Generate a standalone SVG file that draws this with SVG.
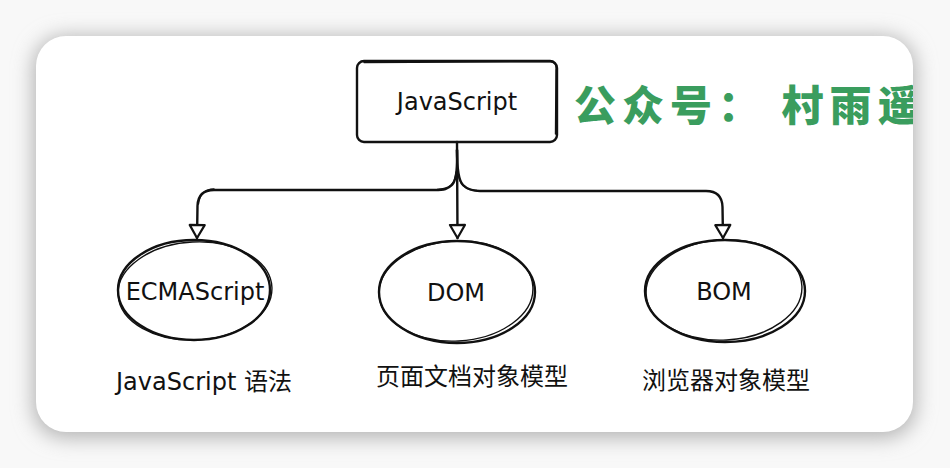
<svg xmlns="http://www.w3.org/2000/svg" width="950" height="468" viewBox="0 0 950 468">
  <defs>
    <filter id="shadow" x="-10%" y="-10%" width="120%" height="125%">
      <feGaussianBlur stdDeviation="10"/>
    </filter>
    <clipPath id="cardClip">
      <rect x="36" y="36" width="877" height="396" rx="30" ry="30"/>
    </clipPath>
    <marker id="arrow" markerUnits="userSpaceOnUse" markerWidth="20" markerHeight="20" viewBox="-2 -10 17 20" refX="13" refY="0" orient="auto">
      <path d="M0,-7.5 L13,0 L0,7.5 Z" fill="#ffffff" stroke="#111111" stroke-width="2.2" stroke-linejoin="round"/>
    </marker>
    <style>
      .sk { fill: none; stroke: #111111; stroke-width: 2.4; stroke-linecap: round; stroke-linejoin: round; }
      .sk2 { fill: none; stroke: #111111; stroke-width: 1.4; stroke-linecap: round; }
      .lat { font-family: "DejaVu Sans", "Liberation Sans", sans-serif; font-size: 24px; fill: #111111; }
      .cap { font-family: "DejaVu Sans", "Noto Sans CJK SC", sans-serif; font-size: 24px; fill: #111111; }
      .cjk { font-family: "Noto Sans CJK SC", sans-serif; font-size: 24px; fill: #111111; }
      .brand { font-family: "Noto Sans CJK SC", sans-serif; font-size: 42px; font-weight: 900; fill: #3a9d5e; letter-spacing: 6px; }
    </style>
  </defs>

  <!-- background and card -->
  <rect x="0" y="0" width="950" height="468" fill="#f8f8f8"/>
  <rect x="33" y="36" width="883" height="402" rx="32" ry="32" fill="#b4b4b4" filter="url(#shadow)"/>
  <rect x="36" y="36" width="877" height="396" rx="30" ry="30" fill="#ffffff"/>

  <!-- brand text -->
  <g id="brand" clip-path="url(#cardClip)">
    <text class="brand" x="574" y="121">公众号： 村雨遥</text>
  </g>

  <!-- connectors -->
  <g id="connectors">
    <path class="sk" d="M457,142 L457.5,238" marker-end="url(#arrow)"/>
    <path class="sk" d="M457,150 C457.5,165 457,180 452,185 C448,189 444,190 435,190 L214,190 Q198,190 197.5,206 L197,238" marker-end="url(#arrow)"/>
    <path class="sk2" d="M456,172 C455,184 450,189 437,189.5 L300,190"/>
    <path class="sk2" d="M214,189 Q200,189.5 198.5,204"/>
    <path class="sk" d="M457,150 C457,165 458,180 463,185 C467,189 471,191 480,191 L706,191 Q722,191 722.5,207 L723,238" marker-end="url(#arrow)"/>
    <path class="sk2" d="M458,172 C459,184 464,190 477,190.5 L600,191"/>
  </g>

  <!-- root node -->
  <g id="node-javascript">
    <rect class="sk" x="357" y="61" width="200" height="81" rx="7" ry="7"/>
    <path class="sk2" d="M364,62.5 L550,61.5 Q557,62 556,70 L555.5,134"/>
    <text class="lat" x="457" y="110" text-anchor="middle">JavaScript</text>
  </g>

  <!-- ECMAScript -->
  <g id="node-ecmascript">
    <ellipse class="sk" cx="194" cy="290" rx="76" ry="50"/>
    <ellipse class="sk2" cx="195" cy="291" rx="77" ry="49" transform="rotate(-3 195 291)"/>
    <text class="lat" x="195" y="300" text-anchor="middle">ECMAScript</text>
    <text class="cap" x="116" y="390">JavaScript 语法</text>
  </g>

  <!-- DOM -->
  <g id="node-dom">
    <ellipse class="sk" cx="457" cy="292" rx="78" ry="51"/>
    <ellipse class="sk2" cx="456" cy="291" rx="77" ry="50" transform="rotate(-3 456 291)"/>
    <text class="lat" x="456" y="301" text-anchor="middle">DOM</text>
    <text class="cjk" x="376" y="385">页面文档对象模型</text>
  </g>

  <!-- BOM -->
  <g id="node-bom">
    <ellipse class="sk" cx="725" cy="291" rx="80" ry="51"/>
    <ellipse class="sk2" cx="724" cy="290" rx="78" ry="50" transform="rotate(-3 724 290)"/>
    <text class="lat" x="724" y="300" text-anchor="middle">BOM</text>
    <text class="cjk" x="642" y="389">浏览器对象模型</text>
  </g>
</svg>
